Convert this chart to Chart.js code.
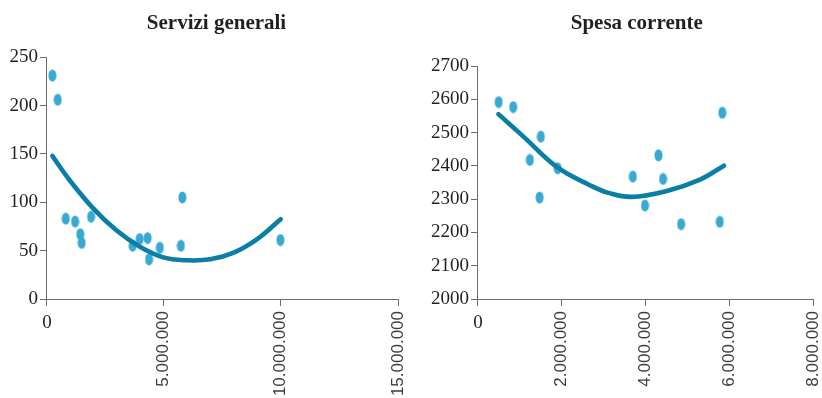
<!DOCTYPE html>
<html lang="it">
<head>
<meta charset="utf-8">
<title>Servizi generali e spesa corrente</title>
<script src="https://cdn.jsdelivr.net/npm/chart.js@4/dist/chart.umd.min.js"></script>
<style>
  html, body { margin: 0; padding: 0; background: #fff; overflow: hidden; }
  body { width: 822px; height: 398px; position: relative; }
  .pane { position: absolute; top: 0; }
  canvas { display: block; }
</style>
</head>
<body>
<div class="pane" style="left:0px"><canvas id="servizi" width="410" height="398"></canvas></div>
<div class="pane" style="left:410px"><canvas id="spesa" width="412" height="398"></canvas></div>
<script>
// Servizi generali: observed values
const serviziX = [270000, 500000, 840000, 1240000, 1460000, 1520000, 1920000, 3690000, 3990000, 4330000, 4390000, 4850000, 5750000, 5810000, 9990000];
const serviziY = [231, 206, 83, 80, 67, 58, 85, 55, 62, 63, 41, 53, 55, 105, 61];
// Servizi generali: trend curve
const serviziTrendX = [270000, 1000000, 2000000, 3000000, 4000000, 5000000, 6000000, 7000000, 8000000, 9000000, 10000000];
const serviziTrendY = [148, 123, 94, 71, 54, 43, 40, 41, 48, 62, 82.5];
const serviziYTicks = [0, 50, 100, 150, 200, 250];
const serviziXTicks = [0, 5000000, 10000000, 15000000];

// Spesa corrente: observed values
const spesaX = [515000, 863000, 1260000, 1520000, 1490000, 1920000, 3710000, 4000000, 4320000, 4430000, 4860000, 5780000, 5840000];
const spesaY = [2592, 2577, 2418, 2488, 2305, 2393, 2368, 2281, 2432, 2361, 2225, 2232, 2560];
// Spesa corrente: trend curve
const spesaTrendX = [510000, 1100000, 1900000, 2690000, 3130000, 3680000, 4520000, 5310000, 5880000];
const spesaTrendY = [2556, 2489, 2397, 2342, 2319, 2307, 2325, 2359, 2401];
const spesaYTicks = [2000, 2100, 2200, 2300, 2400, 2500, 2600, 2700];
const spesaXTicks = [0, 2000000, 4000000, 6000000, 8000000];

const POINT_COLOR = '#38a9d2';
const LINE_COLOR = '#0a7ea5';
const AXIS_COLOR = '#6d6d6d';
const TEXT_COLOR = '#231f20';
const SERIF = '"Liberation Serif", "DejaVu Serif", serif';
const SANS = '"Liberation Sans", Arial, sans-serif';

// Oval marker used for every observed value
function ovalMarker() {
  const c = document.createElement('canvas');
  c.width = 9; c.height = 13;
  const g = c.getContext('2d');
  g.fillStyle = POINT_COLOR;
  g.beginPath();
  g.ellipse(4.5, 6.5, 4, 6, 0, 0, Math.PI * 2);
  g.fill();
  return c;
}
const marker = ovalMarker();

function pairs(xs, ys) { return xs.map((x, i) => ({ x: x, y: ys[i] })); }

function dotted(v) {
  return String(Math.round(v)).replace(/\B(?=(\d{3})+(?!\d))/g, '.');
}

// Draws the horizontal "0" under the origin of the x axis
const originLabel = {
  id: 'originLabel',
  afterDraw(chart) {
    const sx = chart.scales.x;
    const ctx = chart.ctx;
    ctx.save();
    ctx.font = '19px ' + SERIF;
    ctx.fillStyle = TEXT_COLOR;
    ctx.textAlign = 'center';
    ctx.textBaseline = 'alphabetic';
    ctx.fillText('0', sx.getPixelForValue(0) + 1, chart.chartArea.bottom + 29);
    ctx.restore();
  }
};

// Moves the title block so its text is centred on a given x
const titleShift = {
  id: 'titleShift',
  afterLayout(chart, args, opts) {
    const t = chart.titleBlock;
    if (!t || opts.center == null) return;
    const dx = opts.center - (t.left + t.right) / 2;
    t.left += dx;
    t.right += dx;
  }
};

function makeChart(id, cfg) {
  return new Chart(document.getElementById(id), {
    type: 'scatter',
    data: {
      datasets: [
        {
          data: pairs(cfg.trendX, cfg.trendY),
          showLine: true,
          borderColor: LINE_COLOR,
          borderWidth: 4.6,
          borderCapStyle: 'round',
          borderJoinStyle: 'round',
          tension: 0.4,
          pointRadius: 0,
          order: 0
        },
        {
          data: pairs(cfg.x, cfg.y),
          pointStyle: marker,
          pointRadius: 6,
          order: 1
        }
      ]
    },
    options: {
      responsive: false,
      animation: false,
      events: [],
      layout: { padding: { left: 0, right: cfg.padRight, top: 0, bottom: 0 } },
      plugins: {
        legend: { display: false },
        tooltip: { enabled: false },
        title: {
          display: true,
          text: cfg.title,
          color: TEXT_COLOR,
          font: { family: SERIF, size: 21, weight: 'bold', lineHeight: 1.2 },
          padding: { top: 11, bottom: cfg.titleGap }
        },
        titleShift: { center: cfg.titleCenter }
      },
      scales: {
        x: {
          type: 'linear',
          min: cfg.xTicks[0],
          max: cfg.xTicks[cfg.xTicks.length - 1],
          afterBuildTicks(scale) { scale.ticks = cfg.xTicks.map(v => ({ value: v })); },
          afterFit(scale) {
            scale.height = 99;
            scale.paddingLeft = 0;
            scale.paddingRight = 0;
          },
          border: { display: true, color: AXIS_COLOR, width: 1 },
          grid: { display: true, drawOnChartArea: false, drawTicks: true, tickLength: 7, color: AXIS_COLOR },
          ticks: {
            minRotation: 90,
            maxRotation: 90,
            padding: 5,
            color: '#3c3c3c',
            font: { family: SANS, size: 17 },
            callback: v => (v === 0 ? '' : dotted(v))
          }
        },
        y: {
          type: 'linear',
          min: cfg.yTicks[0],
          max: cfg.yTicks[cfg.yTicks.length - 1],
          afterBuildTicks(scale) { scale.ticks = cfg.yTicks.map(v => ({ value: v })); },
          afterFit(scale) { scale.width = cfg.yWidth; },
          border: { display: true, color: AXIS_COLOR, width: 1 },
          grid: { display: true, drawOnChartArea: false, drawTicks: true, tickLength: 6, color: AXIS_COLOR },
          ticks: {
            padding: 2,
            color: TEXT_COLOR,
            font: { family: SERIF, size: 19 },
            callback: v => String(v)
          }
        }
      }
    },
    plugins: [originLabel, titleShift]
  });
}

makeChart('servizi', {
  title: 'Servizi generali',
  x: serviziX, y: serviziY,
  trendX: serviziTrendX, trendY: serviziTrendY,
  xTicks: serviziXTicks, yTicks: serviziYTicks,
  yWidth: 46, padRight: 12, titleGap: 21, titleCenter: 216.5
});

makeChart('spesa', {
  title: 'Spesa corrente',
  x: spesaX, y: spesaY,
  trendX: spesaTrendX, trendY: spesaTrendY,
  xTicks: spesaXTicks, yTicks: spesaYTicks,
  yWidth: 67, padRight: 9, titleGap: 30, titleCenter: 226.7
});
</script>
</body>
</html>
